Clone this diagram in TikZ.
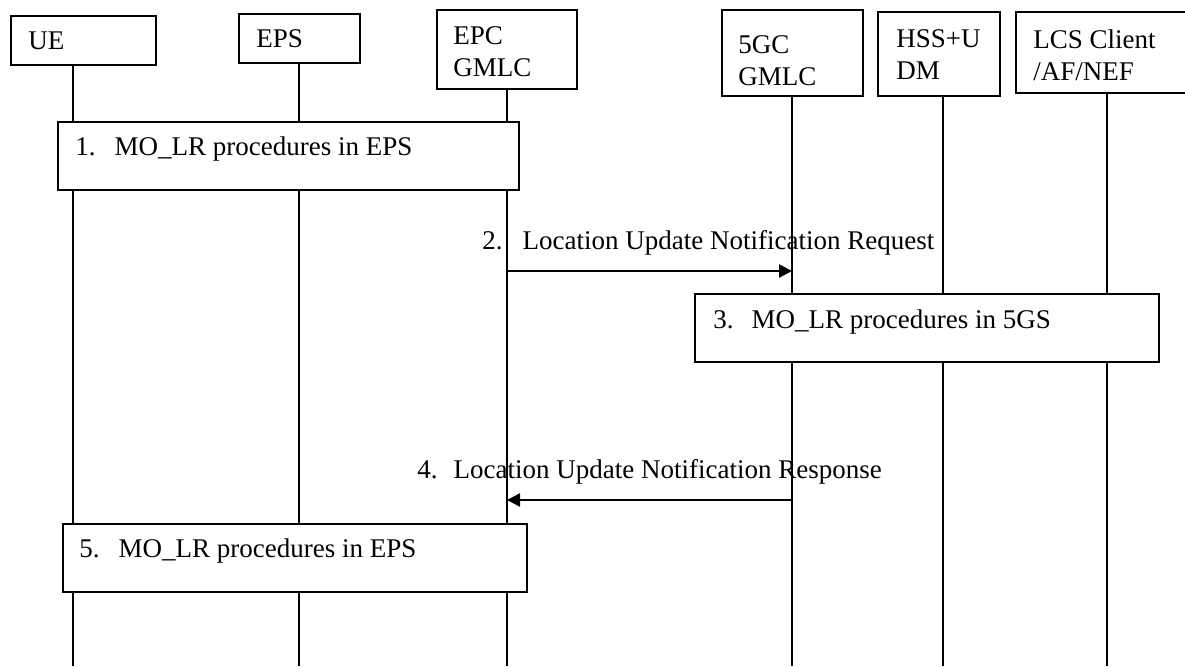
\documentclass[tikz,border=0pt]{standalone}
\usepackage{fontspec}
\setmainfont{Liberation Serif}
\usetikzlibrary{arrows.meta}
\begin{document}
\begin{tikzpicture}[x=0.5pt,y=-0.5pt,
  lbl/.style={font=\fontsize{13.5pt}{16pt}\selectfont, inner sep=0pt},
  hdrtext/.style={lbl, align=left, anchor=north west},
  boxbase/.style={draw=black, line width=0.75pt, fill=white, inner sep=0pt, anchor=north west},
  life/.style={draw=black, line width=0.7pt},
  msg/.style={draw=black, line width=1.25pt, -{Triangle[length=6.5pt,width=6.5pt]}}]
\useasboundingbox (0,0) rectangle (1185,666);
\fill[white] (0,0) rectangle (1185,666);
\clip (0,0) rectangle (1185,666);

% lifeline end points
\coordinate (ueT) at (73,64);   \coordinate (ueB) at (73,666);
\coordinate (epsT) at (299,62); \coordinate (epsB) at (299,666);
\coordinate (epcT) at (507,88); \coordinate (epcB) at (507,666);
\coordinate (gcT) at (792,95);  \coordinate (gcB) at (792,666);
\coordinate (hssT) at (943,95); \coordinate (hssB) at (943,666);
\coordinate (lcsT) at (1107,92);\coordinate (lcsB) at (1107,666);

\draw[life] (ueT) -- (ueB);
\draw[life] (epsT) -- (epsB);
\draw[life] (epcT) -- (epcB);
\draw[life] (gcT) -- (gcB);
\draw[life] (hssT) -- (hssB);
\draw[life] (lcsT) -- (lcsB);

% header boxes
\node[boxbase, minimum width=72.5pt, minimum height=24.5pt] (ue) at (10,15) {};
\node[boxbase, minimum width=60.5pt, minimum height=24.5pt] (eps) at (238,13) {};
\node[boxbase, minimum width=70pt, minimum height=39.5pt] (epc) at (436,9) {};
\node[boxbase, minimum width=70.5pt, minimum height=43pt] (gc) at (721,9) {};
\node[boxbase, minimum width=61pt, minimum height=42pt] (hss) at (877,11) {};
\node[boxbase, minimum width=100pt, minimum height=40.5pt] (lcs) at (1015,11) {};

\node[hdrtext] (uet) at (28,31) {UE};
\node[hdrtext] (epst) at (256,29) {EPS};
\node[hdrtext] (epct) at (453,26) {EPC\\GMLC};
\node[hdrtext] (gct) at (738,35) {5GC\\GMLC};
\node[hdrtext] (hsst) at (896,29) {HSS+U\\DM};
\node[hdrtext] (lcst) at (1033,29) {LCS Client\\/AF/NEF};

% procedure boxes
\node[boxbase, minimum width=230.5pt, minimum height=34pt] (b1) at (57,121) {};
\node[lbl, anchor=base west] (b1t) at (75,155) {1.\hspace{9.5pt}MO\_LR procedures in EPS};

\node[boxbase, minimum width=232pt, minimum height=34pt] (b3) at (694,293) {};
\node[lbl, anchor=base west] (b3t) at (713,328) {3.\hspace{9pt}MO\_LR procedures in 5GS};

\node[boxbase, minimum width=232pt, minimum height=34pt] (b5) at (62,523) {};
\node[lbl, anchor=base west] (b5t) at (79,557) {5.\hspace{9.5pt}MO\_LR procedures in EPS};

% messages
\coordinate (m2s) at (507,271); \coordinate (m2e) at (792,271);
\draw[msg] (m2s) -- (m2e);
\node[lbl, anchor=base west] (m2t) at (482,249) {2.\hspace{10pt}Location Update Notification Request};

\coordinate (m4s) at (792,500); \coordinate (m4e) at (507,500);
\draw[msg] (m4s) -- (m4e);
\node[lbl, anchor=base west] (m4t) at (417,478) {4.\hspace{8pt}Location Update Notification Response};
\end{tikzpicture}
\end{document}
